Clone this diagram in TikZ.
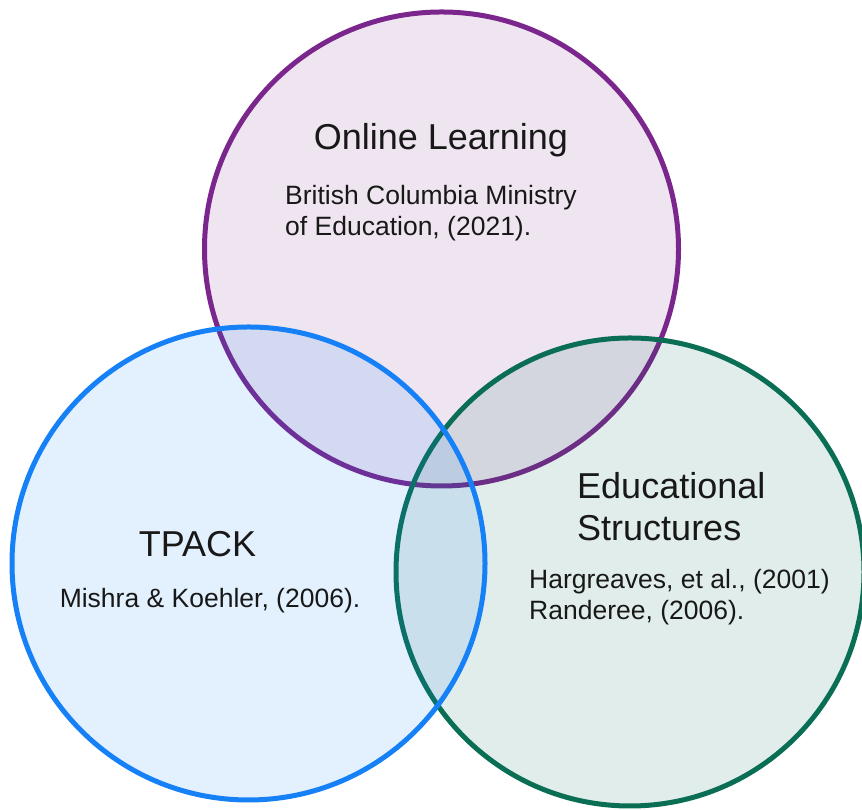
\documentclass[tikz,border=0pt]{standalone}
\usepackage{fontspec}
\setmainfont{Liberation Sans}
\usepackage{xcolor}
\usepackage{tikz}
\usetikzlibrary{positioning}

\definecolor{onlinepurple}{RGB}{122,38,140}
\definecolor{tpackblue}{RGB}{22,128,246}
\definecolor{structgreen}{RGB}{10,110,84}
\definecolor{inkgray}{RGB}{24,24,24}

\tikzset{
  ring/.style={circle, draw=#1, fill=#1, fill opacity=0.12, line width=5pt, inner sep=0pt},
  heading/.style={font=\fontsize{36}{42}\selectfont, text=inkgray, inner sep=0pt},
  refs/.style={font=\fontsize{26.5}{31}\selectfont, text=inkgray, inner sep=0pt, align=left}
}

\begin{document}
\begin{tikzpicture}[x=1pt, y=1pt]
\useasboundingbox (0,0) rectangle (862,810);

% Circles
\node[ring=onlinepurple, minimum size=474pt] (online) at (441.5,561) {};
\node[ring=structgreen, minimum size=468pt] (struct) at (630,238) {};
\node[ring=tpackblue, minimum size=473pt] (tpack) at (248.5,246.5) {};

% Online Learning (multi-line text sits on its last baseline)
\node[heading, anchor=base] (onlinetitle) at (441,660) {Online Learning};
\node[refs, anchor=base west] (onlineref) at (285,574)
  {British Columbia Ministry\\of Education, (2021).};

% TPACK
\node[heading, anchor=base] (tpacktitle) at (197.5,253) {TPACK};
\node[refs, anchor=base] (tpackref) at (210,202) {Mishra \& Koehler, (2006).};

% Educational Structures
\node[heading, anchor=base west, align=left] (structtitle) at (577,269)
  {Educational\\Structures};
\node[refs, anchor=base west] (structref) at (529,190)
  {Hargreaves, et al., (2001)\\Randeree, (2006).};
\end{tikzpicture}
\end{document}
